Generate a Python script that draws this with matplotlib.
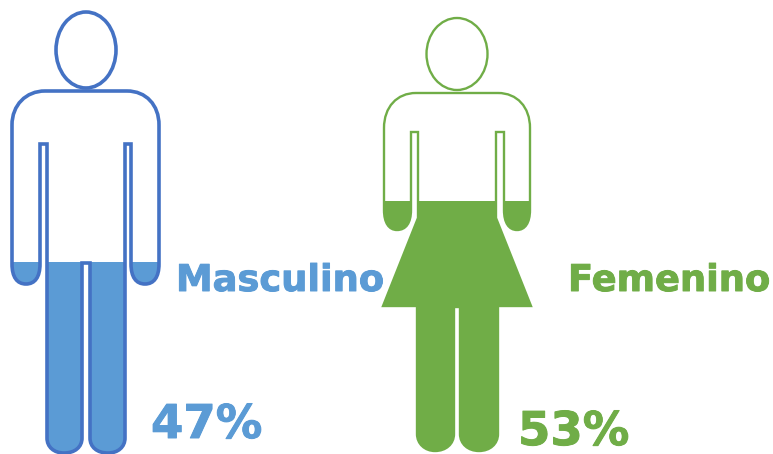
import matplotlib.pyplot as plt
import matplotlib.patheffects as pe
from matplotlib.patches import Ellipse, PathPatch, Rectangle
from matplotlib.path import Path

labels = ['Masculino', 'Femenino']
shares = [47, 53]
fill_levels = [262, 201]  # y pixel of the water line
fill_colors = ['#5B9BD5', '#70AD47']
line_colors = ['#4472C4', '#70AD47']
line_widths = [2.6, 1.7]

M, L, C, Z = Path.MOVETO, Path.LINETO, Path.CURVE4, Path.CLOSEPOLY

man_outline = [
    (M, 86, 91), (L, 127, 91), (C, 146, 91), (C, 159, 105), (C, 159, 125),
    (L, 159, 264), (C, 159, 277), (C, 154, 284), (C, 145, 284),
    (C, 136, 284), (C, 131, 277), (C, 131, 264),
    (L, 131, 144), (L, 125, 144), (L, 125, 438),
    (C, 125, 447), (C, 118, 453), (C, 108, 453),
    (C, 97, 453), (C, 90, 447), (C, 90, 438),
    (L, 90, 263), (L, 82, 263), (L, 82, 438),
    (C, 82, 447), (C, 75, 453), (C, 64, 453),
    (C, 54, 453), (C, 47, 447), (C, 47, 438),
    (L, 47, 144), (L, 40, 144), (L, 40, 264),
    (C, 40, 277), (C, 35, 284), (C, 26, 284),
    (C, 17, 284), (C, 12, 277), (C, 12, 264),
    (L, 12, 125), (C, 12, 105), (C, 26, 91), (C, 45, 91),
    (Z, 86, 91),
]

woman_outline = [
    (M, 457, 93), (L, 498, 93), (C, 517, 93), (C, 530, 107), (C, 530, 128),
    (L, 530, 210), (C, 530, 223), (C, 525, 230), (C, 517, 230),
    (C, 509, 230), (C, 504, 223), (C, 504, 210),
    (L, 504, 132), (L, 496, 132), (L, 496, 218), (L, 531, 306),
    (L, 498, 306), (L, 498, 434),
    (C, 498, 444), (C, 490, 451), (C, 479, 451),
    (C, 468, 451), (C, 460, 444), (C, 460, 434),
    (L, 460, 307), (L, 454, 307), (L, 454, 434),
    (C, 454, 444), (C, 446, 451), (C, 435, 451),
    (C, 425, 451), (C, 417, 444), (C, 417, 434),
    (L, 417, 306), (L, 383, 306), (L, 418, 218), (L, 418, 132), (L, 411, 132),
    (L, 411, 210), (C, 411, 223), (C, 406, 230), (C, 397, 230),
    (C, 389, 230), (C, 384, 223), (C, 384, 210),
    (L, 384, 128), (C, 384, 107), (C, 397, 93), (C, 416, 93),
    (Z, 457, 93),
]

outlines = [man_outline, woman_outline]
heads = [(86, 50, 60, 76), (457, 54, 61, 72)]
label_pos = [(176, 291), (568, 291)]
share_pos = [(151, 438), (518, 445)]


def make_path(outline):
    codes = [p[0] for p in outline]
    verts = [(p[1], p[2]) for p in outline]
    return Path(verts, codes)


fig = plt.figure(figsize=(7.73, 4.54), dpi=100)
ax = fig.add_axes([0, 0, 1, 1])
ax.set_xlim(0, 773)
ax.set_ylim(454, 0)
ax.axis('off')

for i in range(2):
    body = make_path(outlines[i])

    # filled part of the figure, cut at the level line
    fill = PathPatch(body, facecolor=fill_colors[i], edgecolor='none')
    ax.add_patch(fill)
    fill.set_clip_path(Rectangle((0, fill_levels[i]), 773, 454 - fill_levels[i], transform=ax.transData))

    ax.add_patch(PathPatch(body, facecolor='none', edgecolor=line_colors[i], lw=line_widths[i]))
    x, y, w, h = heads[i]
    ax.add_patch(Ellipse((x, y), w, h, facecolor='none', edgecolor=line_colors[i], lw=line_widths[i]))

    # slight stroke, the original font is heavier than DejaVu bold
    heavy = [pe.withStroke(linewidth=0.7, foreground=fill_colors[i])]
    ax.text(label_pos[i][0], label_pos[i][1], labels[i], color=fill_colors[i],
            fontsize=26.5, fontweight='bold', family='DejaVu Sans', va='baseline', path_effects=heavy)
    ax.text(share_pos[i][0], share_pos[i][1], f'{shares[i]}%', color=fill_colors[i],
            fontsize=33.5, fontweight='bold', family='DejaVu Sans', va='baseline', path_effects=heavy)

fig.savefig('out.png', dpi=100)
